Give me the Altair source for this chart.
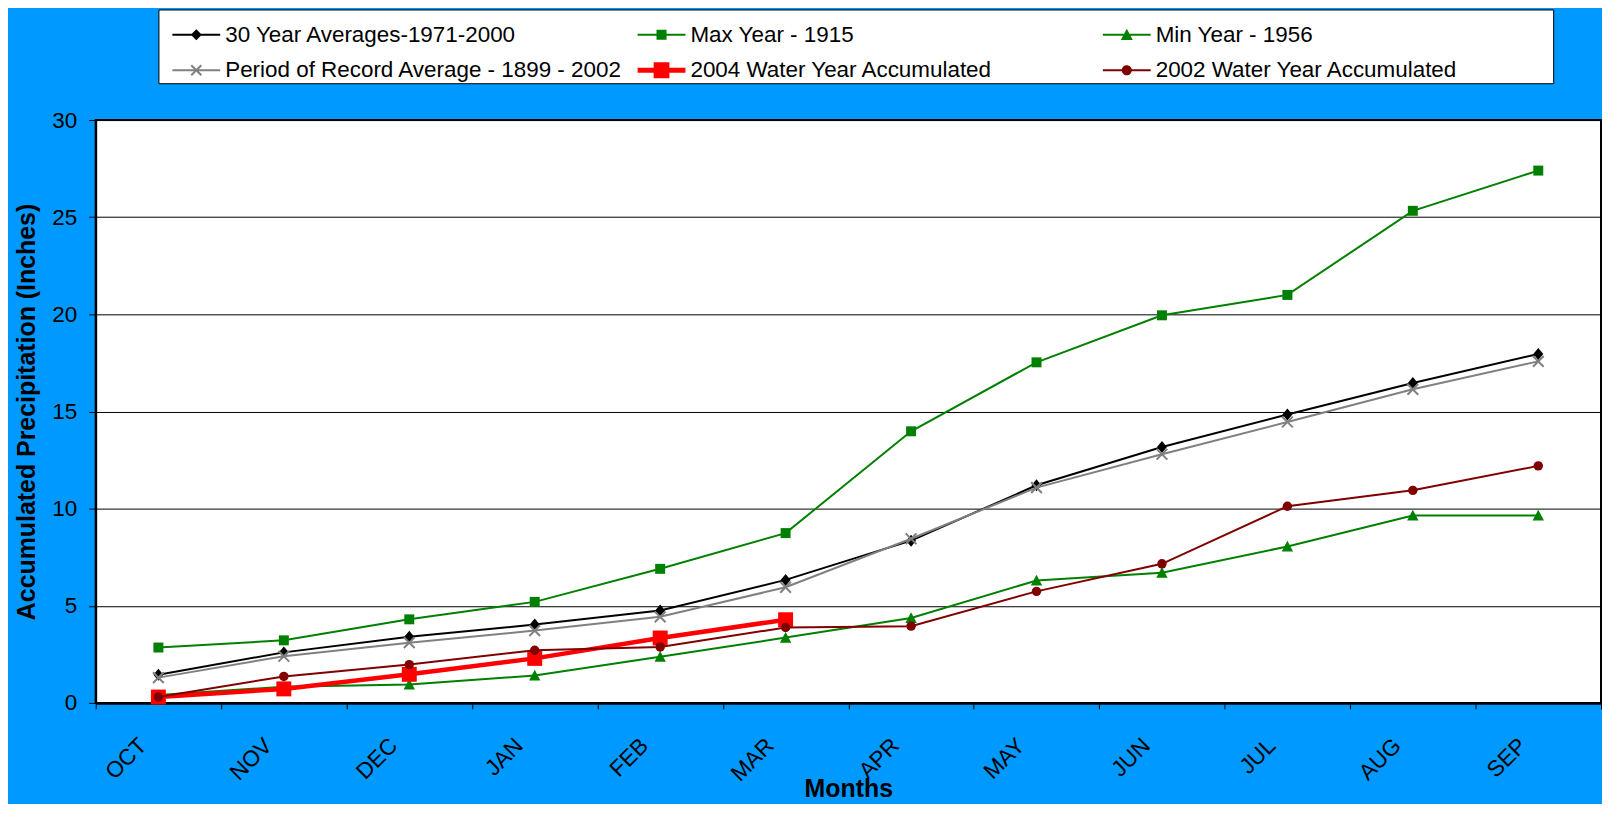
import altair as alt
import pandas as pd

months = ["OCT", "NOV", "DEC", "JAN", "FEB", "MAR", "APR", "MAY", "JUN", "JUL", "AUG", "SEP"]

series_names = [
    "30 Year Averages-1971-2000",
    "Max Year - 1915",
    "Min Year - 1956",
    "Period of Record Average - 1899 - 2002",
    "2004 Water Year Accumulated",
    "2002 Water Year Accumulated",
]

avg_30yr = [1.45, 2.6, 3.4, 4.03, 4.76, 6.33, 8.35, 11.2, 13.17, 14.84, 16.47, 17.96]
max_1915 = [2.85, 3.22, 4.3, 5.2, 6.9, 8.74, 13.98, 17.53, 19.95, 21.0, 25.33, 27.4]
min_1956 = [0.4, 0.83, 0.95, 1.41, 2.38, 3.36, 4.37, 6.3, 6.7, 8.05, 9.65, 9.65]
por_avg = [1.3, 2.4, 3.1, 3.72, 4.43, 5.95, 8.45, 11.08, 12.8, 14.46, 16.14, 17.58]
wy_2004 = [0.3, 0.72, 1.47, 2.29, 3.34, 4.28]
wy_2002 = [0.3, 1.36, 1.97, 2.71, 2.88, 3.88, 3.95, 5.74, 7.16, 10.12, 10.94, 12.2]

series_values = [avg_30yr, max_1915, min_1956, por_avg, wy_2004, wy_2002]

rows = []
for name, vals in zip(series_names, series_values):
    for m, v in zip(months, vals):
        rows.append({"month": m, "series": name, "value": v})
df = pd.DataFrame(rows)

# ---- styles ----
colors = ["#000000", "#008000", "#008000", "#808080", "#FF0000", "#800000"]
line_widths = [2, 2, 2, 2, 4.5, 2]

DIAMOND = "M0,-1L0.833,0L0,1L-0.833,0Z"
TRI = "M0,-0.95L0.95,0.85L-0.95,0.85Z"


def xpath(a, d):
    b1 = f"M{-a+d},{-a-d}L{a+d},{a-d}L{a-d},{a+d}L{-a-d},{-a+d}Z"
    b2 = f"M{a+d},{-a+d}L{-a+d},{a+d}L{-a-d},{a-d}L{a-d},{-a-d}Z"
    return b1 + b2


point_shapes = [DIAMOND, "square", TRI, xpath(0.9, 0.118), "square", "circle"]
point_sizes = [144, 100, 144, 144, 225, 90]


def lline(t):
    return f"M-1,{-t}H1V{t}H-1Z"


legend_paths = [
    lline(0.042) + "M0,-0.23L0.23,0L0,0.23L-0.23,0Z",
    lline(0.042) + "M-0.21,-0.21H0.21V0.21H-0.21Z",
    lline(0.042) + "M0,-0.25L0.25,0.22L-0.25,0.22Z",
    lline(0.042) + xpath(0.21, 0.03),
    lline(0.104) + "M-0.33,-0.33H0.33V0.33H-0.33Z",
    lline(0.042) + "M-0.21,0A0.21,0.21 0 1,1 0.21,0A0.21,0.21 0 1,1 -0.21,0Z",
]

# legend labels: last one carries invisible trailing space (closed by a zero-width
# character so it is not trimmed) so the frame reaches as far right as in the original
PAD = "\u00a0" * 15 + "\u200b"
legend_labels = series_names[:5] + [series_names[5] + PAD]

# legend fills column by column (2 rows): reorder so it reads row by row
legend_order = [0, 3, 1, 4, 2, 5]
legend_domain = [legend_labels[i] for i in legend_order]
legend_colors = [colors[i] for i in legend_order]
legend_shapes = [legend_paths[i] for i in legend_order]

FONT = "Liberation Sans"

x_axis = alt.Axis(
    labelAngle=315, labelAlign="right", labelBaseline="middle",
    labelFont=FONT, labelFontSize=22.5, labelColor="black",
    labelPadding=33, labelOffset=-16,
    tickBand="extent", tickSize=6, tickColor="black", tickWidth=1,
    domainColor="black", domainWidth=3, grid=False,
    titleFont=FONT, titleFontSize=25, titleFontWeight="bold", titleColor="black",
    titleY=86, titleBaseline="middle",
)
y_axis = alt.Axis(
    values=[0, 5, 10, 15, 20, 25, 30],
    labelFont=FONT, labelFontSize=22.5, labelColor="black", labelPadding=12,
    tickSize=7, tickColor="black", tickWidth=1,
    domainColor="black", domainWidth=2,
    grid=True, gridColor="black", gridWidth=1,
    titleFont=FONT, titleFontSize=25, titleFontWeight="bold", titleColor="black",
    titleX=-69, titleBaseline="middle",
)

x_enc = alt.X("month:O", scale=alt.Scale(type="band", domain=months, paddingInner=0, paddingOuter=0),
              axis=x_axis, title="Months", bandPosition=0.5)
y_enc = alt.Y("value:Q", scale=alt.Scale(domain=[0, 30], nice=False), axis=y_axis,
              title="Accumulated Precipitation (Inches)")

layers = []
for i, name in enumerate(series_names):
    base = alt.Chart(df).transform_filter(alt.datum.series == name)
    layers.append(
        base.mark_line(color=colors[i], strokeWidth=line_widths[i]).encode(x=x_enc, y=y_enc)
    )
    layers.append(
        base.mark_point(filled=True, opacity=1, fill=colors[i], strokeWidth=0,
                        shape=point_shapes[i], size=point_sizes[i]).encode(x=x_enc, y=y_enc)
    )

leg = alt.Legend(
    orient="none", legendX=63, legendY=-111, columns=3, title=None,
    fillColor="white", strokeColor="black", padding=1,
    labelFont=FONT, labelFontSize=22.5, labelColor="black", labelLimit=800, labelOffset=5,
    symbolSize=2304, symbolStrokeWidth=0, symbolOpacity=1, symbolOffset=13,
    rowPadding=0, columnPadding=2, gridAlign="all",
)

legend_layer = alt.Chart(df).transform_filter("false").mark_point(filled=True, opacity=1).encode(
    x=x_enc, y=y_enc,
    fill=alt.Fill("series:N", scale=alt.Scale(domain=legend_domain, range=legend_colors), legend=leg),
    shape=alt.Shape("series:N", scale=alt.Scale(domain=legend_domain, range=legend_shapes), legend=leg),
)

chart = alt.layer(*layers, legend_layer).properties(
    width=1511, height=585,
    padding={"left": 88, "top": 111, "right": 1, "bottom": 100},
    autosize=alt.AutoSizeParams(type="none"),
    background="#0099FF",
).configure_view(fill="white", stroke="black", strokeWidth=2)

chart.save("out.html", embed_options={"renderer": "svg", "actions": False})
